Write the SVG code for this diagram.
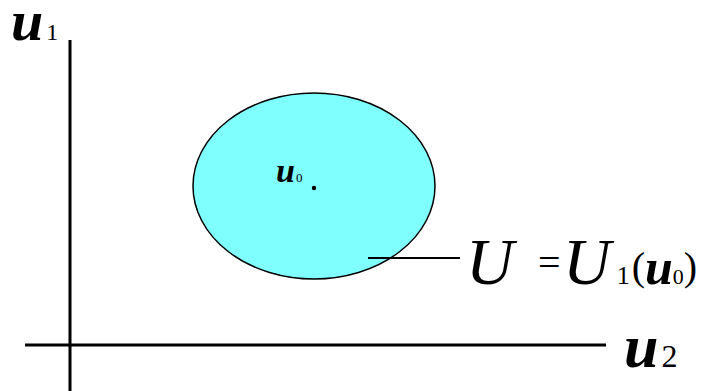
<svg xmlns="http://www.w3.org/2000/svg" width="711" height="391" viewBox="0 0 711 391">
<style>
.ax{stroke:#000;stroke-width:3;fill:none}
text{font-family:"Liberation Serif","Times New Roman","DejaVu Serif",serif;fill:#000}
.bi{font-style:italic;font-weight:bold}
.i{font-style:italic}
</style>
<rect width="711" height="391" fill="#fff"/>
<g id="axes">
<line class="ax" x1="70" y1="40" x2="70" y2="391"/>
<line class="ax" x1="25" y1="345" x2="606" y2="345"/>
</g>
<g id="region">
<ellipse cx="314" cy="186" rx="121" ry="93" fill="#80ffff" stroke="#000" stroke-width="1.5"/>
<circle cx="314" cy="188" r="2.2" fill="#000"/>
<text x="276" y="182"><tspan class="bi" font-size="34">u</tspan><tspan font-size="13" dx="1">0</tspan></text>
</g>
<g id="connectors">
<line x1="368" y1="258" x2="460" y2="258" stroke="#000" stroke-width="2"/>
</g>
<g id="labels">
<text x="11" y="40"><tspan class="bi" font-size="58">u</tspan><tspan font-size="24" dx="3">1</tspan></text>
<text x="624" y="367"><tspan class="bi" font-size="62">u</tspan><tspan font-size="32" dx="3">2</tspan></text>
<text x="466" y="284"><tspan class="i" font-size="66">U</tspan></text>
<text x="538" y="276" font-size="40">=</text>
<text x="563" y="284"><tspan class="i" font-size="66">U</tspan><tspan font-size="26" dx="6">1</tspan><tspan font-size="40" dx="2" dy="-4">(</tspan><tspan class="bi" font-size="50" dy="4">u</tspan><tspan font-size="22">0</tspan><tspan font-size="40" dy="-4">)</tspan></text>
</g>
</svg>
